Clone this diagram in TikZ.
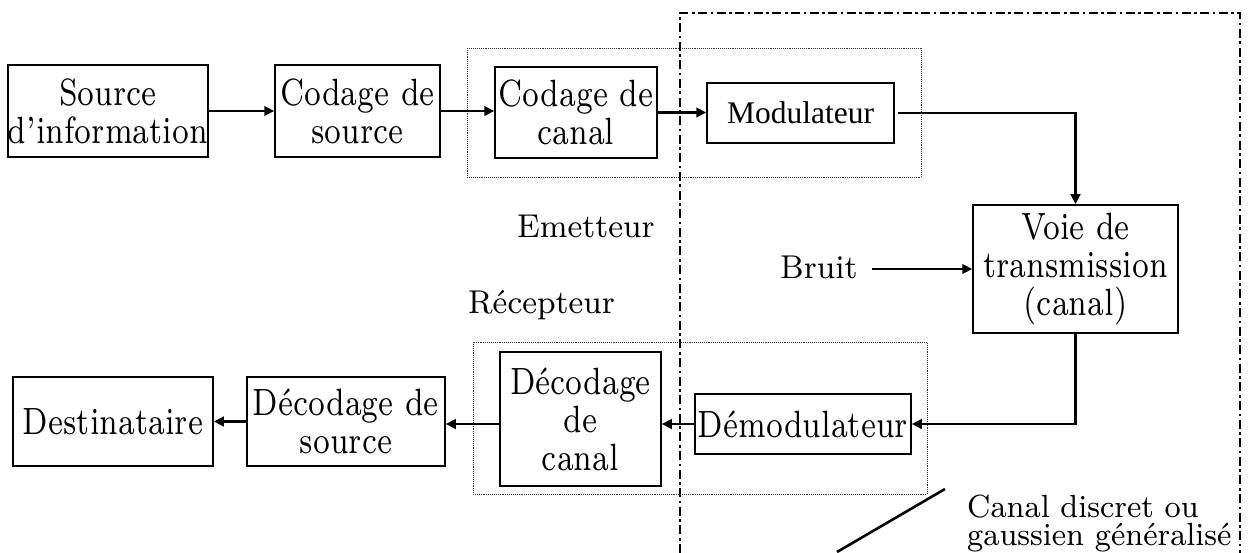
\documentclass[tikz,border=0pt]{standalone}
\usepackage{fontspec}
\newfontfamily\timesfont{Liberation Serif}
\newfontfamily\boxfont{lmroman7-regular.otf}[FakeStretch=0.78, Ligatures=TeX]
\newfontfamily\lblfont{lmroman8-regular.otf}[FakeStretch=0.95, Ligatures=TeX]
\usetikzlibrary{arrows.meta}
\begin{document}
\begin{tikzpicture}[x=1pt,y=-1pt,
  blk/.style={draw, line width=1.5pt, inner sep=0pt, align=center,
    font=\boxfont\fontsize{38}{38}\selectfont},
  lbl/.style={inner sep=0pt, font=\lblfont\fontsize{33}{38}\selectfont},
  note/.style={inner sep=0pt, anchor=base west, font=\lblfont\fontsize{32}{32}\selectfont},
  conn/.style={line width=2.8pt, -{Triangle[length=10pt,width=9.5pt]}},
  group/.style={line width=0.9pt, densely dotted, black!80},
  chan/.style={line width=2.6pt, dash pattern=on 9pt off 3.5pt on 2.6pt off 3.5pt}]
\useasboundingbox (0,0) rectangle (1249,553);

% channel frame (open at the bottom)
\draw[chan] (680,553) -- (680,13) -- (1240,13) -- (1240,553);

% transmitter / receiver groupings
\draw[group] (467,48) rectangle (921,177);
\draw[group] (473,342) rectangle (927,494);

% transmitter chain
\node[blk, minimum width=200pt, minimum height=92pt] (src) at (108,111) {Source\\d’information};
\node[blk, minimum width=165pt, minimum height=92pt] (csrc) at (357.5,111) {Codage de\\source};
\node[blk, minimum width=162pt, minimum height=91pt] (ccan) at (576,112.5) {Codage de\\canal};
\node[blk, minimum width=187pt, minimum height=60pt, font=\timesfont\fontsize{31.5}{36}\selectfont] (mod) at (800.5,113) {Modulateur};

% channel
\node[blk, minimum width=205pt, minimum height=128pt] (voie) at (1075.5,269) {Voie de\\transmission\\(canal)};
\node[lbl, anchor=base west] (bruit) at (780,278) {Bruit};

% receiver chain
\node[blk, minimum width=216pt, minimum height=60pt] (dem) at (803,424) {Démodulateur};
\node[blk, minimum width=161pt, minimum height=134pt] (dcan) at (580.5,419) {Décodage\\de\\canal};
\node[blk, minimum width=198pt, minimum height=89pt] (dsrc) at (346,421.5) {Décodage de\\source};
\node[blk, minimum width=200pt, minimum height=89pt] (dest) at (113,421.5) {Destinataire};

% labels
\node[lbl, anchor=base west] (emet) at (517,238) {Emetteur};
\node[lbl, anchor=base west] (recep) at (468,313) {Récepteur};
\node[note] (cd1) at (967,517) {Canal discret ou};
\node[note] (cd2) at (967,545) {gaussien généralisé};
\coordinate (ptr1) at (837,552);
\coordinate (ptr2) at (945,489);
\draw[line width=2.6pt] (ptr1) -- (ptr2);

% connectors
\draw[conn] (src.east) -- (src.east -| csrc.west);
\draw[conn] (csrc.east) -- (csrc.east -| ccan.west);
\draw[conn] (ccan.east) -- (ccan.east -| mod.west);
\draw[conn, shorten <=3pt] (mod.east) -| (voie.north);
\draw[conn, shorten <=14pt] (bruit.east |- voie.west) -- (voie.west);
\draw[conn] (voie.south) |- (dem.east);
\draw[conn] (dem.west) -- (dem.west -| dcan.east);
\draw[conn] (dcan.west |- dem.west) -- (dsrc.east |- dem.west);
\draw[conn] (dsrc.west) -- (dest.east);
\end{tikzpicture}
\end{document}
